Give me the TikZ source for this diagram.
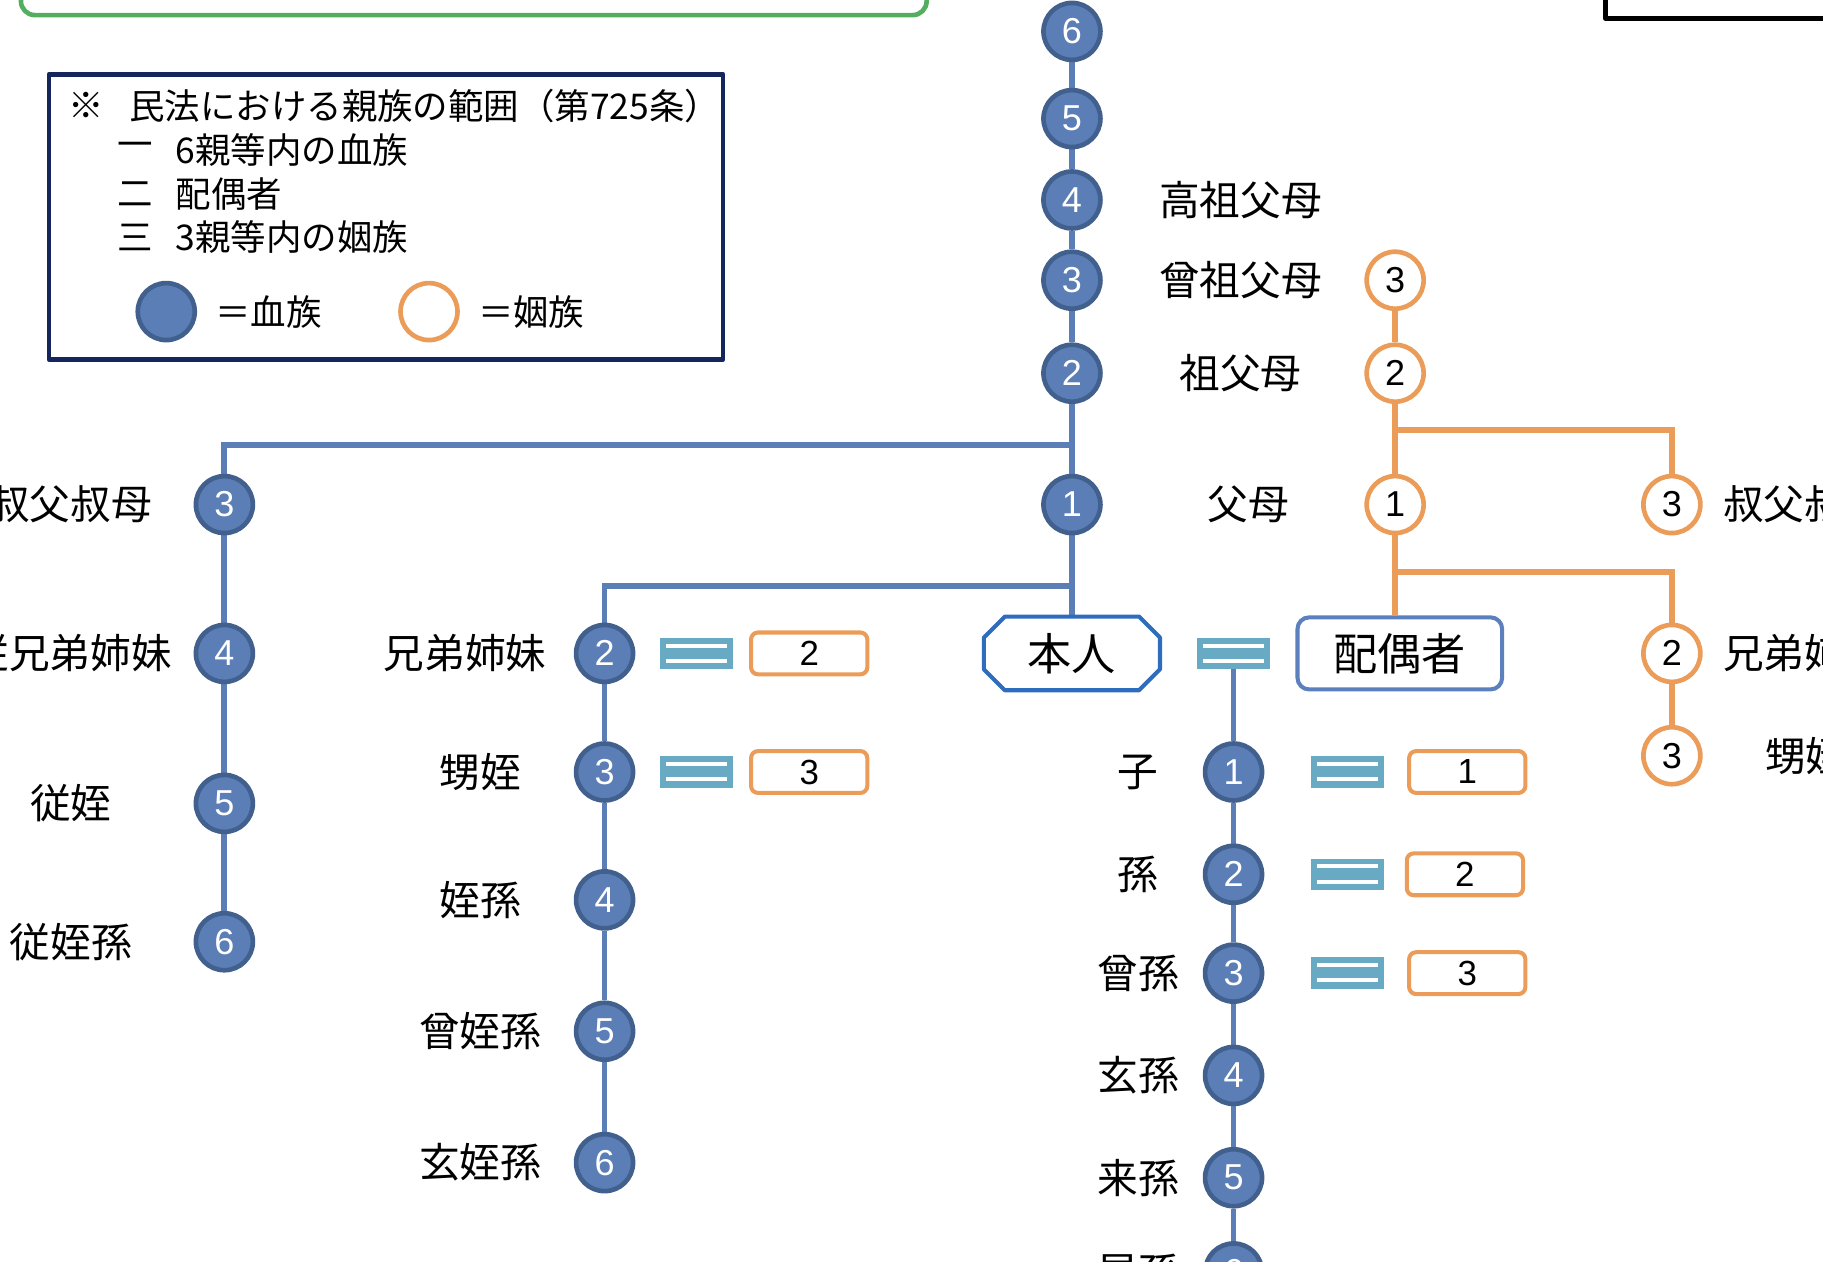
\documentclass[tikz,border=0pt]{standalone}
\usepackage{fontspec}
\setmainfont{Noto Sans CJK JP}
\newfontfamily\numf{Liberation Sans}
\usetikzlibrary{backgrounds}
\definecolor{bfill}{RGB}{91,126,182}
\definecolor{bdark}{RGB}{66,96,142}
\definecolor{orng}{RGB}{234,156,88}
\definecolor{eqteal}{RGB}{104,170,196}
\definecolor{meblue}{RGB}{46,108,190}
\definecolor{spblue}{RGB}{92,128,190}
\definecolor{lgnavy}{RGB}{20,38,92}
\definecolor{grn}{RGB}{84,174,96}
\begin{document}
\begin{tikzpicture}[x=1pt,y=-1pt,line join=round,
	blood/.style={circle,draw=bdark,fill=bfill,line width=4pt,minimum size=49pt,inner sep=0pt,text=white,font=\numf\fontsize{31}{31}\selectfont},
	inlaw/.style={circle,draw=orng,fill=white,line width=4pt,minimum size=49pt,inner sep=0pt,font=\numf\fontsize{31}{31}\selectfont},
	kin/.style={inner sep=0pt,font=\fontsize{35}{35}\selectfont},
	lgtext/.style={inner sep=0pt,font=\fontsize{30.5}{30.5}\selectfont},
	bline/.style={draw=bfill,line width=5pt},
	oline/.style={draw=orng,line width=5pt},
	eqsign/.style={fill=eqteal,minimum width=63pt,minimum height=27pt,inner sep=0pt,
		path picture={\fill[white] ([xshift=5pt,yshift=-5pt]path picture bounding box.north west) rectangle ([xshift=-5pt,yshift=-8.5pt]path picture bounding box.north east);
			\fill[white] ([xshift=5pt,yshift=5.5pt]path picture bounding box.south west) rectangle ([xshift=-5pt,yshift=9pt]path picture bounding box.south east);}},
	degbox/.style={draw=orng,line width=3.5pt,rounded corners=6pt,minimum width=100pt,minimum height=36pt,inner sep=0pt,font=\numf\fontsize{30}{30}\selectfont}]
	\useasboundingbox (0,0) rectangle (1568,1085);
	\clip (0,0) rectangle (1568,1085);
	% frames cut off at the top edge
	\draw[draw=grn,line width=4pt,rounded corners=12pt] (18,-60) rectangle (797,13);
	\draw[line width=4pt] (1381,-60) rectangle (1640,16);
	% legend
	\draw[draw=lgnavy,line width=4pt] (42,64) rectangle (622,309);
	\node[lgtext] (lgmark) at (74,91) {※};
	\node[lgtext,anchor=west] (lg0) at (111,91) {民法における親族の範囲（第725条）};
	\node[lgtext] (lgn1) at (116,129) {一};
	\node[lgtext,anchor=west] (lg1) at (151,129) {6親等内の血族};
	\node[lgtext] (lgn2) at (116,167) {二};
	\node[lgtext,anchor=west] (lg2) at (151,167) {配偶者};
	\node[lgtext] (lgn3) at (116,204) {三};
	\node[lgtext,anchor=west] (lg3) at (151,204) {3親等内の姻族};
	\node[blood] (lgb) at (143,268) {};
	\node[lgtext,anchor=west] (lgbt) at (185,268) {＝血族};
	\node[inlaw] (lgo) at (369,268) {};
	\node[lgtext,anchor=west] (lgot) at (411,268) {＝姻族};
	% blood line upwards
	\foreach \n/\y in {6/27,5/102,4/172,3/241,2/321,1/434}
		\node[blood] (a\n) at (922,\y) {\n};
	\node[kin] (la4) at (1067,172) {高祖父母};
	\node[kin] (la3) at (1067,241) {曾祖父母};
	\node[kin] (la2) at (1067,321) {祖父母};
	\node[kin] (la1) at (1074,434) {父母};
	% in-laws
	\node[inlaw] (o3) at (1200,241) {3};
	\node[inlaw] (o2) at (1200,321) {2};
	\node[inlaw] (o1) at (1200,434) {1};
	\node[inlaw] (ou3) at (1438,434) {3};
	\node[inlaw] (ob2) at (1438,562) {2};
	\node[inlaw] (ob3) at (1438,650) {3};
	\node[kin,anchor=west] (lou3) at (1482,434) {叔父叔母};
	\node[kin,anchor=west] (lob2) at (1482,562) {兄弟姉妹};
	\node[kin,anchor=west] (lob3) at (1518,650) {甥姪};
	% uncles and cousins
	\foreach \n/\y in {3/434,4/562,5/691,6/810}
		\node[blood] (u\n) at (193,\y) {\n};
	\node[kin,anchor=east] (lu3) at (131,434) {叔父叔母};
	\node[kin,anchor=east] (lu4) at (148,562) {従兄弟姉妹};
	\node[kin] (lu5) at (61,691) {従姪};
	\node[kin] (lu6) at (61,810) {従姪孫};
	% siblings
	\foreach \n/\y in {2/562,3/664,4/774,5/887,6/1000}
		\node[blood] (s\n) at (520,\y) {\n};
	\node[kin] (ls2) at (400,562) {兄弟姉妹};
	\node[kin] (ls3) at (413,664) {甥姪};
	\node[kin] (ls4) at (413,774) {姪孫};
	\node[kin] (ls5) at (413,887) {曾姪孫};
	\node[kin] (ls6) at (413,1000) {玄姪孫};
	\node[eqsign] (eqs2) at (599,562) {};
	\node[eqsign] (eqs3) at (599,664) {};
	\node[degbox] (bs2) at (696,562) {2};
	\node[degbox] (bs3) at (696,664) {3};
	% self and spouse
	\node[minimum width=151pt,minimum height=63pt,inner sep=0pt,font=\fontsize{38}{38}\selectfont] (me) at (922,562) {本人};
	\draw[draw=meblue,line width=3.5pt] ([xshift=18pt]me.north west) -- ([xshift=-18pt]me.north east) -- ([yshift=-18pt]me.north east) -- ([yshift=18pt]me.south east) -- ([xshift=-18pt]me.south east) -- ([xshift=18pt]me.south west) -- ([yshift=18pt]me.south west) -- ([yshift=-18pt]me.north west) -- cycle;
	\node[eqsign] (eqme) at (1061,562) {};
	\node[draw=spblue,line width=3.5pt,rounded corners=10pt,minimum width=176pt,minimum height=62pt,inner sep=0pt,font=\fontsize{38}{38}\selectfont] (sp) at (1204,562) {配偶者};
	% descendants
	\foreach \n/\y in {1/664,2/752,3/837,4/925,5/1013,6/1094}
		\node[blood] (c\n) at (1061,\y) {\n};
	\node[kin] (lc1) at (979,664) {子};
	\node[kin] (lc2) at (979,752) {孫};
	\node[kin] (lc3) at (979,837) {曾孫};
	\node[kin] (lc4) at (979,925) {玄孫};
	\node[kin] (lc5) at (979,1013) {来孫};
	\node[kin] (lc6) at (979,1094) {昆孫};
	\foreach \n/\y in {1/664,2/752,3/837}
		\node[eqsign] (eqc\n) at (1159,\y) {};
	\node[degbox] (bc1) at (1262,664) {1};
	\node[degbox] (bc2) at (1260,752) {2};
	\node[degbox] (bc3) at (1262,837) {3};
	% connectors
	\coordinate (ju) at (922,383);
	\coordinate (js) at (922,504);
	\coordinate (jo1) at (1200,370);
	\coordinate (jo2) at (1200,492);
	\begin{scope}[on background layer]
		\foreach \p/\q in {6/5,5/4,4/3,3/2,2/1}
			\draw[bline] (a\p) -- (a\q);
		\draw[bline] (a1) -- (me);
		\draw[bline] (ju) -| (u3);
		\foreach \p/\q in {3/4,4/5,5/6}
			\draw[bline] (u\p) -- (u\q);
		\draw[bline] (js) -| (s2);
		\foreach \p/\q in {2/3,3/4,4/5,5/6}
			\draw[bline] (s\p) -- (s\q);
		\draw[bline] (eqme) -- (c1);
		\foreach \p/\q in {1/2,2/3,3/4,4/5,5/6}
			\draw[bline] (c\p) -- (c\q);
		\draw[oline] (o3) -- (o2);
		\draw[oline] (o2) -- (o1);
		\draw[oline] (o1) -- (o1.center |- sp.north);
		\draw[oline] (jo1) -| (ou3);
		\draw[oline] (jo2) -| (ob2);
		\draw[oline] (ob2) -- (ob3);
	\end{scope}
\end{tikzpicture}
\end{document}
